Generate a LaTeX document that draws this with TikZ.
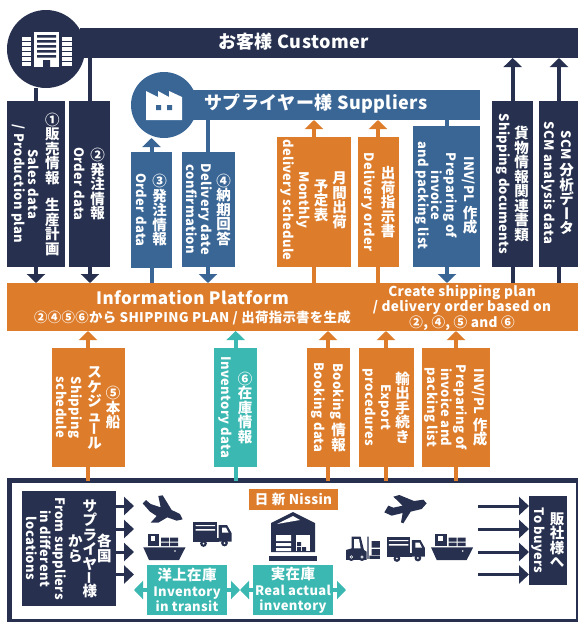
\documentclass[tikz,border=0pt]{standalone}
\usepackage{graphicx}
\usepackage{fontspec}
\setmainfont{Noto Sans CJK JP}[LetterSpace=2.5]
\usetikzlibrary{arrows.meta}
\definecolor{navy}{HTML}{27314F}
\definecolor{sblue}{HTML}{3A6696}
\definecolor{orng}{HTML}{DD7C2B}
\definecolor{teal2}{HTML}{3AB8B1}
\makeatletter
\def\choon{ー}
\newcommand\tatechar{\ifx\tc\choon\makebox[1em]{\tc}\else\rotatebox[x=.5em,y=.38em]{90}{\makebox[1em]{\rule[-.12em]{0pt}{1em}\tc}}\fi}
\newcommand\tate[1]{{\fontsize{14.5}{14}\selectfont\bfseries\@tfor\tc:=#1\do{\tatechar}}}
\makeatother
\newcommand\bx[6]{\pgfmathsetmacro\bw{#4-#2}\pgfmathsetmacro\bh{#5-#3}%
 \node[fill=#6,draw=none,inner sep=0pt,outer sep=0pt,minimum width=\bw pt,minimum height=\bh pt,anchor=north west] (#1) at (#2,#3) {};}
\tikzset{
 vt/.style={rotate=-90,align=center,text=white,font=\fontsize{13}{13}\selectfont\bfseries,inner sep=0pt},
 ht/.style={align=center,text=white,font=\fontsize{13}{14.5}\selectfont\bfseries,inner sep=0pt},
 stem/.style={line width=4pt,draw=#1},
 arr/.style={line width=4pt,draw=#1,-{Triangle[width=18pt,length=9pt,fill=#1]}},
 arrthin/.style={line width=3pt,draw=navy,-{Triangle[width=18pt,length=10pt,fill=navy]}},
}
\begin{document}
\begin{tikzpicture}[x=1pt,y=-1pt]
\useasboundingbox (0,0) rectangle (578,622);
% customer
\bx{cust}{80}{28}{578}{58}{navy}
\node[circle,fill=navy,minimum size=78pt,inner sep=0pt,outer sep=0pt] (custc) at (46,49) {};
\node[ht,font=\fontsize{18}{20}\selectfont\bfseries] (custt) at (293.5,42) {お客様 Customer};
% building icon
\fill[white] (34,32) rectangle (59,67);
\fill[navy] (37,35) rectangle (56,37.5) (37,40) rectangle (56,42.5) (37,45) rectangle (56,47.5) (37,50) rectangle (56,52.5) (37,55) rectangle (56,57.5) (43,60) rectangle (50,67);
\foreach \yy in {37,42,47,52,57,62}{\fill[white] (22,\yy) rectangle (31,\yy+4); \fill[white] (62,\yy) rectangle (72,\yy+4);}
% suppliers
\bx{supp}{190}{90}{480}{120}{sblue}
\node[circle,fill=sblue,minimum size=66pt,inner sep=0pt,outer sep=0pt] (suppc) at (164,105) {};
\node[ht,font=\fontsize{18}{20}\selectfont\bfseries] (suppt) at (316,104) {サプライヤー様 Suppliers};
\fill[white] (146,120) -- (146,91) -- (158,97) -- (158,91) -- (169,97) -- (169,91) -- (182,97) -- (182,120) -- cycle;
\fill[sblue] (156,105) rectangle (161,110) (167,105) rectangle (172,110);
% platform
\bx{plat}{7}{283}{578}{331}{orng}
\node[ht,font=\fontsize{17}{19}\selectfont\bfseries] (platt) at (192.5,298) {Information Platform};
\node[ht,font=\fontsize{13.4}{15}\selectfont\bfseries] (plats) at (192.5,318) {②④⑤⑥から SHIPPING PLAN / 出荷指示書を生成};
\node[ht,font=\fontsize{13.6}{14.3}\selectfont\bfseries] (platr) at (462,307.5) {Create shipping plan\\/ delivery order based on\\②, ④, ⑤ and ⑥};
% frame
\node[draw=navy,line width=4.5pt,inner sep=0pt,outer sep=0pt,minimum width=568.5pt,minimum height=140.5pt,anchor=north west] (frame) at (9.5,480.5) {};
% upper boxes
\bx{b1}{7}{101}{65}{267}{navy}
\bx{b2}{69}{101}{110}{267}{navy}
\bx{b3}{131}{152}{172}{268}{sblue}
\bx{b4}{182}{152}{235}{267}{sblue}
\bx{b5}{277}{137}{351}{267}{orng}
\bx{b6}{358}{137}{399}{267}{orng}
\bx{b7}{413}{126}{480}{267}{sblue}
\bx{b8}{492}{101}{533}{267}{navy}
\bx{b9}{539}{101}{578}{267}{navy}
\node[vt] (b1t) at (b1.center) {\tate{①販売情報}\hspace{1em}\tate{生産計画}\\[5pt]Sales data\\[1pt]/ Production plan};
\node[vt] (b2t) at (b2.center) {\tate{②発注情報}\\[5pt]Order data};
\node[vt] (b3t) at (b3.center) {\tate{③発注情報}\\[5pt]Order data};
\node[vt] (b4t) at (b4.center) {\tate{④納期回答}\\[4pt]Delivery date\\confirmation};
\node[vt] (b5t) at ([shift={(0,-2)}]b5.center) {\tate{月間出荷}\\[3pt]\tate{予定表}\\[3pt]Monthly\\[1pt]delivery schedule};
\node[vt] (b6t) at (b6.center) {\tate{出荷指示書}\\[5pt]Delivery order};
\node[vt] (b7t) at ([shift={(0,-1)}]b7.center) {INV/PL \tate{作成}\\[4pt]Preparing of\\invoice\\and packing list};
\node[vt] (b8t) at (b8.center) {\tate{貨物情報関連書類}\\[4pt]Shipping documents};
\node[vt] (b9t) at ([shift={(-1,-1)}]b9.center) {SCM \tate{分析}\tate{データ}\\[4pt]SCM analysis data};
% lower boxes
\bx{c1}{52}{348}{125}{467}{orng}
\bx{c2}{214}{348}{257}{467}{teal2}
\bx{c3}{307}{348}{350}{467}{orng}
\bx{c4}{359}{348}{414}{467}{orng}
\bx{c5}{422}{348}{490}{467}{orng}
\node[vt] (c1t) at (c1.center) {\tate{⑤本船}\\[3pt]\tate{スケジュ}ー\tate{ル}\\[5pt]Shipping\\schedule};
\node[vt] (c2t) at (c2.center) {\tate{⑥在庫情報}\\[5pt]Inventory data};
\node[vt] (c3t) at (c3.center) {Booking \tate{情報}\\[4pt]Booking data};
\node[vt] (c4t) at (c4.center) {\tate{輸出手続き}\\[3pt]Export\\[1pt]procedures};
\node[vt] (c5t) at (c5.center) {INV/PL \tate{作成}\\[4pt]Preparing of\\invoice and\\[1pt]packing list};
% connectors upper
\draw[stem=navy] (36,0 |- custc.south) -- (36,0 |- b1.north);
\draw[arr=navy] (36,0 |- b1.south) -- (36,0 |- plat.north);
\draw[stem=navy] (90,0 |- cust.south) -- (90,0 |- b2.north);
\draw[arr=navy] (90,0 |- b2.south) -- (90,0 |- plat.north);
\draw[stem=sblue] (151.5,0 |- plat.north) -- (151.5,0 |- b3.south);
\draw[arr=sblue] (151.5,0 |- b3.north) -- (151.5,0 |- suppc.south);
\draw[stem=sblue] (208,0 |- supp.south) -- (208,0 |- b4.north);
\draw[arr=sblue] (208,0 |- b4.south) -- (208,0 |- plat.north);
\draw[stem=orng] (314,0 |- plat.north) -- (314,0 |- b5.south);
\draw[arr=orng] (314,0 |- b5.north) -- (314,0 |- supp.south);
\draw[stem=orng] (378,0 |- plat.north) -- (378,0 |- b6.south);
\draw[arr=orng] (378,0 |- b6.north) -- (378,0 |- supp.south);
\draw[stem=sblue] (447,0 |- supp.south) -- (447,0 |- b7.north);
\draw[arr=sblue] (447,0 |- b7.south) -- (447,0 |- plat.north);
\draw[stem=navy] (512.7,0 |- plat.north) -- (512.7,0 |- b8.south);
\draw[arr=navy] (512.7,0 |- b8.north) -- (512.7,0 |- cust.south);
\draw[stem=navy] (559,0 |- plat.north) -- (559,0 |- b9.south);
\draw[arr=navy] (559,0 |- b9.north) -- (559,0 |- cust.south);
% connectors lower
\foreach \n/\xx/\cc in {c1/88/orng,c2/235.7/teal2,c3/328/orng,c4/386/orng,c5/456/orng}{
 \draw[stem=\cc] (\xx,0 |- frame.north) -- (\xx,0 |- \n.south);
 \draw[arr=\cc] (\xx,0 |- \n.north) -- (\xx,0 |- plat.south);
}
% frame contents
\bx{from}{22}{491}{116}{606}{navy}
\node[vt,font=\fontsize{13}{14.5}\selectfont\bfseries] (fromt) at (from.center) {\tate{各国}\\\tate{サプライヤ}ー\tate{様}\\\tate{から}\\From suppliers\\in different\\locations};
\bx{tob}{529}{496}{567}{585}{navy}
\node[vt] (tobt) at (tob.center) {\tate{販社様へ}\\[4pt]To buyers};
\foreach \k/\yy in {a/506,b/529,c/552,d/574.5}{
 \coordinate (fa\k) at (from.east |- 0,\yy);
 \coordinate (fe\k) at (134,\yy);
 \draw[arrthin] (fa\k) -- (fe\k);
 \coordinate (ta\k) at (478,\yy);
 \draw[arrthin] (ta\k) -- (tob.west |- 0,\yy);
}
\bx{nis}{249}{489}{338}{510}{orng}
\node[ht,font=\fontsize{13.5}{15}\selectfont\bfseries] (nist) at (nis.center) {日 新 Nissin};
\bx{t1}{147}{565}{227}{615}{teal2}
\bx{t2}{253}{565}{333}{615}{teal2}
\node[ht,font=\fontsize{13}{15}\selectfont\bfseries] (t1t) at (t1.center) {{\fontsize{14.5}{15}\selectfont 洋上在庫}\\[1pt]Inventory\\in transit};
\node[ht,font=\fontsize{13}{15}\selectfont\bfseries] (t2t) at (t2.center) {{\fontsize{14.5}{15}\selectfont 実在庫}\\[1pt]Real actual\\inventory};
\coordinate (gap) at (240,590);
\coordinate (tl) at (134,590);
\coordinate (tr) at (346,590);
\draw[arr=teal2] (t1.west |- gap) -- (tl);
\draw[arr=teal2] (t1.east |- gap) -- (gap);
\draw[arr=teal2] (t2.west |- gap) -- (gap);
\draw[arr=teal2] (t2.east |- gap) -- (tr);
% warehouse
\fill[navy] (271,552) -- (271,523) -- (293,512) -- (315,523) -- (315,552) -- cycle;
\fill[navy] (269,556) rectangle (317,561);
\fill[white] (277,524) -- (293,516) -- (300,520) -- cycle;
\fill[white] (276,535) rectangle (291,541) (276,543) rectangle (291,546) (276,548) rectangle (291,551);
\fill[white] (296,535) rectangle (310,551);
\fill[navy] (297,542) rectangle (301,546) (297,547) rectangle (301,551) (302,547) rectangle (306,551);
% plane 1
\begin{scope}[shift={(130,480)},x=0.3333pt,y=-0.3333pt]
\fill[navy] (38,70) -- (48,60) -- (62,72) -- (92,82) -- (85,48) -- (98,46) -- (125,90) -- (150,102) -- (158,118) -- (140,122) -- (112,112) -- (85,128) -- (62,128) -- (80,108) -- (60,95) -- cycle;
\end{scope}
% plane 2
\begin{scope}[shift={(340,485)},x=0.3333pt,y=-0.3333pt]
\fill[navy] (133,82) -- (145,62) -- (160,68) -- (188,62) -- (160,35) -- (178,30) -- (222,48) -- (250,44) -- (260,55) -- (245,72) -- (212,80) -- (190,115) -- (183,112) -- (188,84) -- (155,92) -- cycle;
\end{scope}
% ships
\foreach \sx in {0,287.7}{
\begin{scope}[shift={(\sx,0)}]
\fill[navy] (143.3,547.3) -- (185.5,547.3) -- (179,560) -- (149,560) -- cycle;
\fill[navy] (147.5,533.5) rectangle (159,545.5);
\fill[white] (150.5,536) rectangle (155,541);
\fill[navy] (161,537.5) rectangle (169,541.5) (170,537.5) rectangle (178,541.5) (161,542.5) rectangle (169,546) (170,542.5) rectangle (178,546);
\fill[white] (175,551) circle (0.9);
\end{scope}}
% trucks
\foreach \tx/\ty in {0/0,193.4/15}{
\begin{scope}[shift={(\tx,\ty)}]
\fill[navy] (193.3,521.7) rectangle (217,538);
\fill[white] (195.5,525) rectangle (215,526) (195.5,529) rectangle (215,530.5);
\fill[navy] (218.5,525) -- (227,525) -- (231.5,533) -- (231.5,541.5) -- (218.5,541.5) -- cycle;
\fill[white] (222,527.5) -- (226,527.5) -- (228.5,532.5) -- (222,532.5) -- cycle;
\fill[navy] (193.3,538) rectangle (219,541.5);
\fill[navy] (203.5,543.5) circle (3.4) (224.5,543) circle (3.4);
\fill[white] (203.5,543.5) circle (1) (224.5,543) circle (1);
\end{scope}}
% forklift
\begin{scope}[shift={(340,485)},x=0.3333pt,y=-0.3333pt]
\fill[navy] (18,225) -- (18,195) -- (35,190) -- (35,155) -- (62,155) -- (72,195) -- (80,200) -- (80,225) -- cycle;
\fill[white] (42,162) -- (57,162) -- (62,190) -- (42,190) -- cycle;
\fill[navy] (82,155) rectangle (86,222) (88,212) rectangle (120,222);
\fill[navy] (95,168) rectangle (120,188) (95,192) rectangle (120,210);
\foreach \wx in {34,66}{\fill[navy] (\wx,216) circle (12); \fill[white] (\wx,216) circle (5); \fill[navy] (\wx,216) circle (2);}
\end{scope}
\end{tikzpicture}
\end{document}
